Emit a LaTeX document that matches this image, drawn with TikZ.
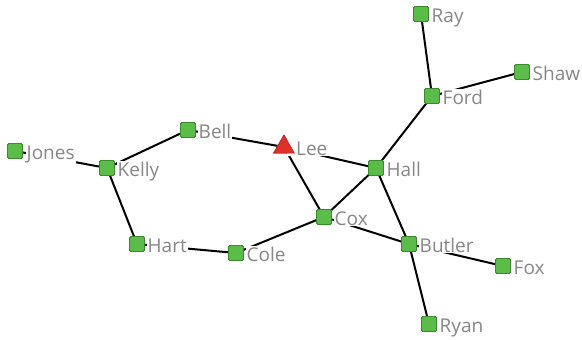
\documentclass[tikz,border=0pt]{standalone}
\usepackage{fontspec}
\setmainfont{Open Sans}
\usetikzlibrary{backgrounds,shapes.geometric}
\definecolor{vfill}{HTML}{5CBC4A}
\definecolor{vline}{HTML}{3A8A2C}
\definecolor{txt}{HTML}{878787}
\definecolor{hub}{HTML}{E0302A}
\tikzset{
  vx/.style={draw=vline, fill=vfill, line width=0.8pt, rounded corners=1.5pt,
    minimum size=15pt, inner sep=0pt, outer sep=0pt},
  hubvx/.style={draw=hub!80!black, fill=hub, line width=0.5pt,
    shape=regular polygon, regular polygon sides=3,
    minimum size=24pt, inner sep=0pt, outer sep=0pt},
  lbl/.style={text=txt, fill=white, inner sep=1pt, anchor=base west,
    font=\fontsize{19}{19}\selectfont},
  edge/.style={draw=black, line width=2pt}
}
\begin{document}
\begin{tikzpicture}[x=1pt,y=-1pt]
\useasboundingbox (0,0) rectangle (582,340);
% vertices
\node[vx] (ray)    at (421,14)  {};
\node[vx] (ford)   at (432,96)  {};
\node[vx] (shaw)   at (522,72)  {};
\node[vx] (hall)   at (376,168) {};
\node[hubvx] (lee) at (284,147) {};
\node[vx] (bell)   at (188,130) {};
\node[vx] (jones)  at (15,151)  {};
\node[vx] (kelly)  at (107,168) {};
\node[vx] (hart)   at (137,244) {};
\node[vx] (cole)   at (236,253) {};
\node[vx] (cox)    at (324,217) {};
\node[vx] (butler) at (409,244) {};
\node[vx] (fox)    at (503,266) {};
\node[vx] (ryan)   at (429,324) {};
% connectors, behind vertices and names
\begin{scope}[on background layer]
\draw[edge] (ray) -- (ford);
\draw[edge] (ford) -- (shaw);
\draw[edge] (ford) -- (hall);
\draw[edge] (hall) -- (lee.center);
\draw[edge] (hall) -- (cox);
\draw[edge] (hall) -- (butler);
\draw[edge] (lee.center) -- (bell);
\draw[edge] (lee.center) -- (cox);
\draw[edge] (bell) -- (kelly);
\draw[edge] (jones) -- (kelly);
\draw[edge] (kelly) -- (hart);
\draw[edge] (hart) -- (cole);
\draw[edge] (cole) -- (cox);
\draw[edge] (cox) -- (butler);
\draw[edge] (butler) -- (fox);
\draw[edge] (butler) -- (ryan);
\end{scope}
% names
\node[lbl] (ray-t)    at ([xshift=2pt,yshift=-8pt]ray.east)    {Ray};
\node[lbl] (ford-t)   at ([xshift=2pt,yshift=-8pt]ford.east)   {Ford};
\node[lbl] (shaw-t)   at ([xshift=2pt,yshift=-8pt]shaw.east)   {Shaw};
\node[lbl] (hall-t)   at ([xshift=2pt,yshift=-8pt]hall.east)   {Hall};
\node[lbl] (lee-t)    at ([xshift=3pt,yshift=-8pt]lee.center)  {\hspace{8pt}Lee};
\node[lbl] (bell-t)   at ([xshift=2pt,yshift=-8pt]bell.east)   {Bell};
\node[lbl] (jones-t)  at ([xshift=3pt,yshift=-8pt]jones.east)  {Jones};
\node[lbl] (kelly-t)  at ([xshift=2pt,yshift=-8pt]kelly.east)  {Kelly};
\node[lbl] (hart-t)   at ([xshift=2pt,yshift=-8pt]hart.east)   {Hart};
\node[lbl] (cole-t)   at ([xshift=2pt,yshift=-8pt]cole.east)   {Cole};
\node[lbl] (cox-t)    at ([xshift=2pt,yshift=-8pt]cox.east)    {Cox};
\node[lbl] (butler-t) at ([xshift=2pt,yshift=-8pt]butler.east) {Butler};
\node[lbl] (fox-t)    at ([xshift=2pt,yshift=-8pt]fox.east)    {Fox};
\node[lbl] (ryan-t)   at ([xshift=2pt,yshift=-8pt]ryan.east)   {Ryan};
% vertices again, on top of the names
\foreach \v in {ray,ford,shaw,hall,bell,jones,kelly,hart,cole,cox,butler,fox,ryan}
  \node[vx] at (\v) {};
\node[hubvx] at (lee) {};
\end{tikzpicture}
\end{document}
